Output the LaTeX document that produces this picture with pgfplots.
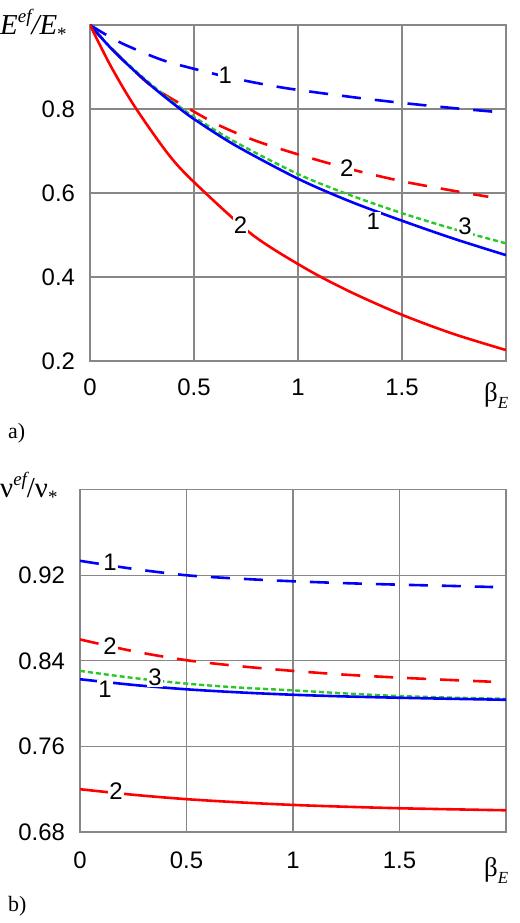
\documentclass[border=0pt]{standalone}
\usepackage{pgfplots}
\pgfplotsset{compat=1.18}
\usepackage{fontspec}
\setmainfont{Liberation Sans}
\newfontfamily\serif{Liberation Serif}
\definecolor{cblue}{RGB}{0,0,255}
\definecolor{cred}{RGB}{255,0,0}
\definecolor{cgreen}{RGB}{40,200,40}
\definecolor{cgrid}{RGB}{135,135,135}
\tikzset{
  dashA/.style={dash pattern=on 19bp off 14bp},
  dotG/.style={dash pattern=on 5bp off 3bp, line width=2.4bp},
  lab/.style={fill=white, inner sep=1bp, font=\fontsize{24}{24}\selectfont},
}
\pgfplotsset{
  mystyle/.style={
    scale only axis, anchor=south west,
    xmin=0, xmax=2,
    xtick={0,0.5,1,1.5},
    grid=major,
    major grid style={cgrid, line width=1.3bp},
    axis line style={cgrid, line width=1.5bp},
    major tick length=0pt,
    tick label style={font=\fontsize{24}{28}\selectfont},
    /pgf/number format/assume math mode=true,
    every axis plot/.append style={line width=2.6bp, smooth},
  },
}
\begin{document}
\begin{tikzpicture}
\path[use as bounding box] (0,0) rectangle (520bp,923bp);
% ---------- a) ----------
\begin{axis}[mystyle, at={(90bp,562bp)}, width=416bp, height=336bp,
  ymin=0.2, ymax=1.0, ytick={0.2,0.4,0.6,0.8},
  xticklabel style={yshift=-14.5bp},
  yticklabel style={xshift=-11.5bp},
  /pgf/number format/fixed, /pgf/number format/precision=1]
\addplot[cblue, dashA] coordinates {(0,1.0) (0.08,0.976) (0.168,0.953) (0.345,0.917) (0.521,0.893) (0.7,0.872) (0.9375,0.850) (1.25,0.829) (1.49,0.815) (1.75,0.802) (2.0,0.791)};
\addplot[cred, dashA] coordinates {(0,1.0) (0.1,0.946) (0.2,0.897) (0.3,0.853) (0.457,0.806) (0.617,0.762) (0.793,0.725) (1.0,0.692) (1.25,0.657) (1.5,0.628) (1.75,0.605) (1.915,0.591)};
\addplot[cgreen, dotG] coordinates {(0,1.0) (0.1,0.946) (0.2,0.899) (0.3,0.856) (0.4,0.817) (0.5,0.781) (0.7,0.721) (1.0,0.645) (1.25,0.595) (1.5,0.552) (1.75,0.514) (2.0,0.480)};
\addplot[cblue] coordinates {(0,1.0) (0.1,0.945) (0.2,0.897) (0.3,0.853) (0.4,0.813) (0.5,0.776) (0.7,0.713) (1.0,0.634) (1.25,0.580) (1.5,0.534) (1.75,0.491) (2.0,0.452)};
\addplot[cred] coordinates {(0,1.0) (0.1,0.902) (0.216,0.805) (0.377,0.692) (0.502,0.625) (0.777,0.502) (1.034,0.421) (1.25,0.365) (1.5,0.310) (1.75,0.264) (2.0,0.226)};
\node[lab] at (axis cs:0.65,0.881) {1};
\node[lab] at (axis cs:1.234,0.659) {2};
\node[lab] at (axis cs:1.362,0.532) {1};
\node[lab] at (axis cs:1.803,0.520) {3};
\node[lab] at (axis cs:0.724,0.524) {2};
\end{axis}
% ---------- b) ----------
\begin{axis}[mystyle, at={(80bp,91bp)}, width=426bp, height=342.3bp,
  ymin=0.68, ymax=1.0, ytick={0.68,0.76,0.84,0.92},
  xticklabel style={yshift=-16.5bp},
  yticklabel style={xshift=-11.5bp},
  /pgf/number format/fixed, /pgf/number format/precision=2]
\addplot[cblue, dashA] coordinates {(0,0.9335) (0.25,0.926) (0.5,0.920) (0.75,0.9168) (1,0.9144) (1.25,0.9126) (1.5,0.9112) (1.75,0.910) (1.94,0.909)};
\addplot[cred, dashA] coordinates {(0,0.860) (0.25,0.849) (0.5,0.8406) (0.75,0.835) (1,0.8306) (1.25,0.827) (1.5,0.8243) (1.75,0.822) (1.93,0.8205)};
\addplot[cgreen, dotG] coordinates {(0,0.8306) (0.25,0.824) (0.5,0.8187) (0.75,0.815) (1,0.8124) (1.25,0.8095) (1.5,0.8071) (1.75,0.8056) (2,0.8045)};
\addplot[cblue] coordinates {(0,0.8228) (0.25,0.8175) (0.5,0.8134) (0.75,0.8105) (1,0.8083) (1.25,0.8067) (1.5,0.8055) (1.75,0.8045) (2,0.8036)};
\addplot[cred] coordinates {(0,0.720) (0.25,0.7148) (0.5,0.7107) (0.75,0.7077) (1,0.7053) (1.25,0.7036) (1.5,0.7022) (1.75,0.7012) (2,0.7003)};
\node[lab] at (axis cs:0.141,0.9325) {1};
\node[lab] at (axis cs:0.141,0.8541) {2};
\node[lab] at (axis cs:0.352,0.8247) {3};
\node[lab] at (axis cs:0.117,0.8134) {1};
\node[lab] at (axis cs:0.169,0.7178) {2};
\end{axis}
% ---------- labels ----------
\node[anchor=base west, inner sep=0] at (0bp,888bp) {\fontsize{29}{30}\serif\itshape E\raisebox{0.42em}{\fontsize{19}{19}\selectfont ef}/E\raisebox{-0.2em}{\fontsize{19}{19}\selectfont\upshape *}};
\node[anchor=base west, inner sep=0] at (0bp,425bp) {\fontsize{29}{30}\serif ν\raisebox{0.42em}{\fontsize{19}{19}\selectfont\itshape ef}/ν\raisebox{-0.2em}{\fontsize{19}{19}\selectfont *}};
\node[anchor=base west, inner sep=0] at (484bp,521bp) {\fontsize{27}{28}\serif β\raisebox{-0.25em}{\fontsize{17}{17}\selectfont\itshape E}};
\node[anchor=base west, inner sep=0] at (484bp,46bp) {\fontsize{27}{28}\serif β\raisebox{-0.25em}{\fontsize{17}{17}\selectfont\itshape E}};
\node[anchor=base west, inner sep=0] at (8bp,484bp) {\fontsize{22}{24}\serif a)};
\node[anchor=base west, inner sep=0] at (8bp,12bp) {\fontsize{22}{24}\serif b)};
\end{tikzpicture}
\end{document}
